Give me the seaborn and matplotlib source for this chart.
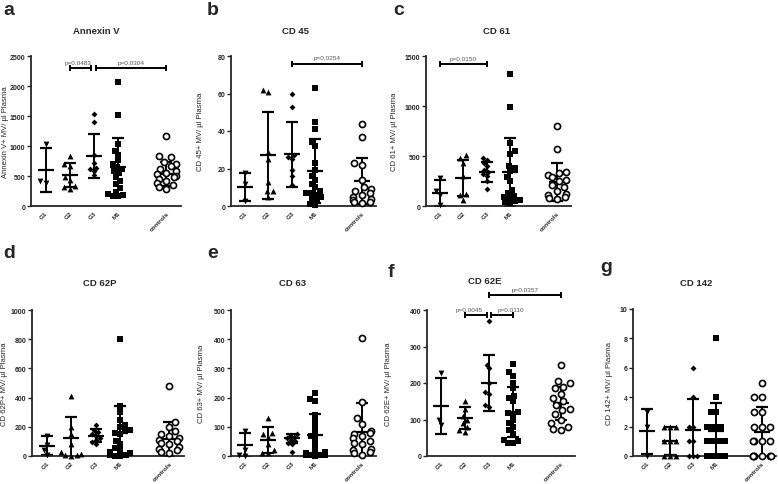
import warnings
import pandas as pd
import seaborn as sns
import matplotlib.pyplot as plt

warnings.filterwarnings('ignore')

sns.set_style('ticks')
plt.rcParams['font.family'] = ['Liberation Sans', 'DejaVu Sans']

# --- DATA ---
groups = ['G1', 'G2', 'G3', 'M1', 'controls']
order = ['G1', 'G2', 'G3', 'M1', '', 'controls']   # empty slot before controls
markers = ['v', '^', 'D', 's', 'o']
marker_sizes = [4.2, 4.2, 3.0, 3.7, 4.4]

# a - Annexin V
annexin_vals = {
    'G1': [1030, 410, 390],
    'G2': [840, 700, 660, 490, 430, 340, 310, 290],
    'G3': [1530, 1400, 850, 720, 640, 610, 580, 510],
    'M1': [2060, 1510, 1040, 920, 850, 760, 700, 650, 620, 580, 550, 480, 420, 360, 300, 240, 200, 180, 165, 160],
    'controls': [1160, 830, 810, 740, 700, 660, 620, 580, 550, 530, 500, 480, 450, 420, 380, 350, 310, 280],
}
annexin_mean = [600, 515, 830, 645, 530]
annexin_sd = [370, 200, 370, 495, 200]

# b - CD 45
cd45_vals = {
    'G1': [17.5, 11.5, 2.5],
    'G2': [62, 61, 29, 25, 13, 8, 8, 5],
    'G3': [60, 53, 27, 26, 25, 19, 16, 11],
    'M1': [63, 45, 41, 34, 32, 23, 19, 16, 14, 12, 10, 8, 7, 7, 6, 5, 4, 3, 1, 0.5],
    'controls': [44, 37, 23, 22, 14, 10, 9, 8, 7, 6, 5, 4, 3, 2, 2, 1.5],
}
cd45_mean = [10, 27, 27.5, 18.5, 13.3]
cd45_sd = [7.5, 23, 17.5, 17, 12.3]

# c - CD 61
cd61_vals = {
    'G1': [285, 150, 110, 10],
    'G2': [510, 480, 430, 300, 120, 110, 60],
    'G3': [480, 460, 430, 400, 360, 340, 320, 300, 250, 170],
    'M1': [1320, 990, 630, 550, 520, 400, 380, 350, 290, 250, 160, 130, 100, 90, 80, 60, 50, 40, 30],
    'controls': [800, 570, 340, 330, 310, 290, 260, 250, 210, 190, 150, 120, 110, 90, 80, 70],
}
cd61_mean = [135, 280, 340, 340, 240]
cd61_sd = [130, 178, 98, 340, 190]

# d - CD 62P
cd62p_vals = {
    'G1': [140, 75, 40, 5],
    'G2': [410, 200, 150, 80, 30, 15, 5, 5, 0],
    'G3': [210, 180, 165, 150, 140, 120, 110, 95, 80],
    'M1': [800, 340, 300, 250, 210, 200, 180, 170, 160, 150, 100, 80, 55, 40, 30, 20, 10, 5, 3, 0],
    'controls': [480, 230, 200, 170, 150, 135, 120, 110, 100, 90, 80, 60, 50, 40, 30, 20],
}
cd62p_mean = [70, 125, 140, 160, 115]
cd62p_sd = [65, 140, 45, 180, 115]

# e - CD 63
cd63_vals = {
    'G1': [85, 20, 2, 0],
    'G2': [130, 80, 75, 65, 40, 20, 10, 10],
    'G3': [75, 70, 65, 60, 55, 50, 45, 40, 12],
    'M1': [215, 195, 190, 140, 120, 100, 80, 70, 60, 40, 20, 15, 10, 5, 5, 3, 2, 1],
    'controls': [403, 185, 130, 110, 85, 80, 75, 70, 60, 50, 45, 40, 25, 20, 15, 10, 5],
}
cd63_mean = [37, 55, 60, 72, 83]
cd63_sd = [41, 45, 17, 71, 97]

# f - CD 62E
cd62e_vals = {
    'G1': [228, 100, 85],
    'G2': [150, 130, 110, 100, 90, 80, 70, 65],
    'G3': [370, 250, 240, 200, 175, 170, 140, 135],
    'M1': [252, 230, 220, 200, 185, 165, 160, 150, 120, 118, 115, 100, 90, 80, 70, 60, 45, 40, 35, 35],
    'controls': [250, 205, 200, 190, 185, 170, 160, 150, 140, 130, 125, 115, 100, 90, 80, 75, 70],
}
cd62e_mean = [137, 104, 200, 120, 144]
cd62e_sd = [77, 29, 76, 68, 46]

# g - CD 142
cd142_vals = {
    'G1': [3, 2, 0],
    'G2': [2, 2, 2, 1, 1, 1, 0, 0, 0],
    'G3': [6, 4, 2, 2, 1, 1, 0, 0, 0],
    'M1': [8, 4, 3, 3, 2, 2, 2, 2, 1, 1, 1, 1, 1, 1, 0, 0, 0, 0, 0],
    'controls': [5, 4, 4, 3, 3, 2, 2, 2, 1, 1, 1, 1, 0, 0, 0, 0, 0, 0],
}
cd142_mean = [1.67, 1.0, 1.8, 1.7, 1.65]
cd142_sd = [1.53, 0.95, 2.05, 1.9, 1.7]

W, H = 778, 485
fig = plt.figure(figsize=(W / 100, H / 100), dpi=100)


def px_axes(left, top, w, h):
    return fig.add_axes([left / W, 1 - (top + h) / H, w / W, h / H])


def draw_panel(ax, vals, mean, sd, yticks, ylabel, label_dx, brackets):
    df = pd.DataFrame([(g, v) for g in groups for v in vals[g]], columns=['group', 'value'])
    pos = [order.index(g) for g in groups]

    # mean +/- SD
    ax.errorbar(pos, mean, yerr=sd, fmt='_', color='black', ms=12, mew=1.6,
                elinewidth=1.4, capsize=4, capthick=1.4, zorder=2)

    for g, m, ms in zip(groups, markers, marker_sizes):
        sub = df[df['group'] == g]
        if g == 'controls':
            sns.swarmplot(data=sub, x='group', y='value', order=order, marker=m, size=ms,
                          color='white', edgecolor='black', linewidth=1.2, ax=ax,
                          zorder=3, clip_on=False)
        else:
            sns.swarmplot(data=sub, x='group', y='value', order=order, marker=m,
                          size=ms, color='black', linewidth=0,
                          ax=ax, zorder=3, clip_on=False)

    ax.set_xlim(-0.6, 5.6)
    ax.set_ylim(0, yticks[-1])
    ax.set_yticks(yticks)
    ax.set_yticklabels([str(t) for t in yticks], fontsize=5, fontweight='bold')
    ax.set_xticks(pos)
    ax.set_xticklabels(groups, rotation=45, ha='right', rotation_mode='anchor',
                       fontsize=4.6, fontweight='bold')
    ax.tick_params(axis='y', length=3, width=1, pad=1)
    ax.tick_params(axis='x', length=0, pad=3)
    sns.despine(ax=ax)
    for s in ['left', 'bottom']:
        ax.spines[s].set_linewidth(1.3)
    ax.set_xlabel('')
    ax.set_ylabel(ylabel, fontsize=5.6)
    bbox = ax.get_position()
    ax.yaxis.set_label_coords(label_dx / (bbox.width * W), 0.5)

    # significance brackets
    for x1, x2, y, txt, dx in brackets:
        ax.plot([x1, x2], [y, y], color='black', lw=1.4, marker='|', ms=5, mew=1.4,
                clip_on=False, zorder=4)
        ax.annotate(txt, xy=((x1 + x2) / 2, y), xytext=(dx, 2.5), textcoords='offset points',
                    ha='center', va='bottom', fontsize=4.6, color='#555555',
                    annotation_clip=False)


# panel geometry in pixels: left, top, width, height
panels = [
    ('a', 'Annexin V', (31, 57, 150, 150), annexin_vals, annexin_mean, annexin_sd,
     [0, 500, 1000, 1500, 2000, 2500], 'Annexin V+ MV/ µl Plasma', -22,
     [(1, 1.9, 2300, 'p=0.0483', -2), (2.1, 5, 2300, 'p=0.0304', 0)],
     (3, 15), (96, 32)),
    ('b', 'CD 45', (231, 57, 145, 150), cd45_vals, cd45_mean, cd45_sd,
     [0, 20, 40, 60, 80], 'CD 45+ MV/ µl Plasma', -27,
     [(2, 5, 76, 'p=0.0254', 0)],
     (207, 15), (295, 32)),
    ('c', 'CD 61', (426, 57, 145, 150), cd61_vals, cd61_mean, cd61_sd,
     [0, 500, 1000, 1500], 'CD 61+ MV/ µl Plasma', -28,
     [(0, 2, 1420, 'p=0.0150', 0)],
     (393, 15), (497, 32)),
    ('d', 'CD 62P', (32, 311, 152, 146), cd62p_vals, cd62p_mean, cd62p_sd,
     [0, 200, 400, 600, 800, 1000], 'CD 62P+ MV/ µl Plasma', -24,
     [],
     (3, 258), (100, 283)),
    ('e', 'CD 63', (231, 311, 145, 146), cd63_vals, cd63_mean, cd63_sd,
     [0, 100, 200, 300, 400, 500], 'CD 63+ MV/ µl Plasma', -26,
     [],
     (207, 258), (293, 283)),
    ('f', 'CD 62E', (427, 311, 148, 146), cd62e_vals, cd62e_mean, cd62e_sd,
     [0, 100, 200, 300, 400], 'CD 62E+ MV/ µl Plasma', -35,
     [(1, 1.9, 385, 'p=0.0045', -5), (2.1, 3, 385, 'p=0.0110', 6),
      (2, 5, 440, 'p=0.0357', 0)],
     (388, 277), (485, 282)),
    ('g', 'CD 142', (633, 310, 143, 147), cd142_vals, cd142_mean, cd142_sd,
     [0, 2, 4, 6, 8, 10], 'CD 142+ MV/ µl Plasma', -20,
     [],
     (600, 272), (696, 283)),
]

for letter, title, rect, vals, mean, sd, yticks, ylabel, ldx, brackets, lpos, tpos in panels:
    ax = px_axes(*rect)
    draw_panel(ax, vals, mean, sd, yticks, ylabel, ldx, brackets)
    fig.text(lpos[0] / W, 1 - lpos[1] / H, letter, fontsize=14, fontweight='bold',
             ha='left', va='baseline')
    fig.text(tpos[0] / W, 1 - tpos[1] / H, title, fontsize=6.8, fontweight='bold',
             ha='center', va='center')

fig.savefig('out.png', dpi=100)
